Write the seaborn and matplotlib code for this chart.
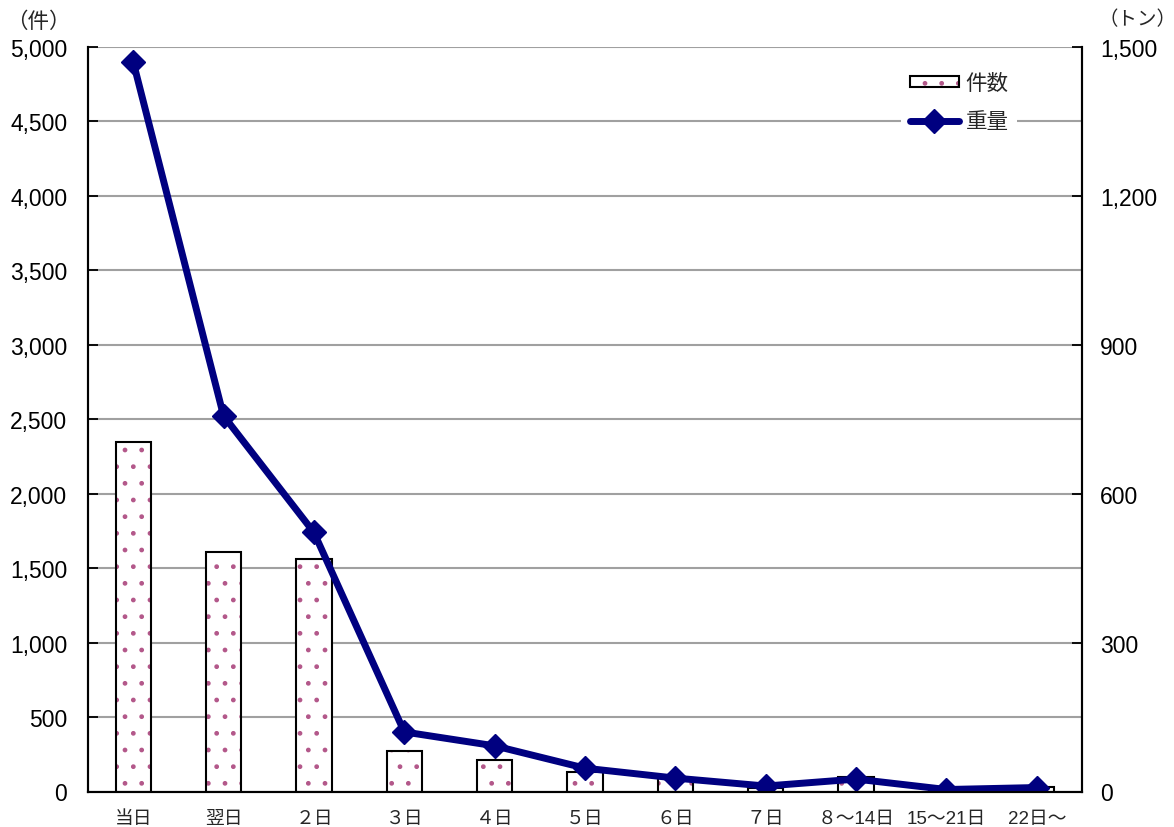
import numpy as np
import pandas as pd
import matplotlib
matplotlib.use("Agg")
import matplotlib.pyplot as plt
import seaborn as sns
from matplotlib.patches import Patch
from matplotlib.lines import Line2D
from matplotlib.legend_handler import HandlerTuple
from matplotlib.ticker import FixedLocator

categories = ["当日", "翌日", "２日", "３日", "４日", "５日", "６日", "７日",
              "８～14日", "15～21日", "22日～"]
counts = [2350, 1610, 1560, 270, 210, 130, 90, 25, 95, 12, 30]
weights = [1470, 757, 522, 120, 92, 47, 27, 11, 25, 4, 8]
left_ticks = [0, 500, 1000, 1500, 2000, 2500, 3000, 3500, 4000, 4500, 5000]
right_ticks = [0, 300, 600, 900, 1200, 1500]
legend_labels = ["件数", "重量"]
left_unit = "（件）"
right_unit = "（トン）"

sns.set_style("white")
plt.rcParams["font.family"] = ["Liberation Sans", "Noto Sans CJK JP", "DejaVu Sans"]

NAVY = "#000080"
PINK = "#b3588a"

df = pd.DataFrame({"cat": categories, "count": counts, "weight": weights,
                   "pos": np.arange(len(categories))})

fig = plt.figure(figsize=(11.74, 8.28), dpi=100)
ax = fig.add_axes([88 / 1174, 1 - 792.5 / 828, (1082 - 88) / 1174, (792.5 - 48) / 828])

# bars: hatched pink dots layer
sns.barplot(data=df, x="cat", y="count", ax=ax, width=0.39, color="white",
            errorbar=None)
n1 = len(ax.patches)
for p in ax.patches:
    p.set_facecolor("white")
    p.set_edgecolor(PINK)
    p.set_hatch(".")
    p.set_linewidth(0)
# outline layer
sns.barplot(data=df, x="cat", y="count", ax=ax, width=0.39, color="white",
            errorbar=None)
for p in ax.patches[n1:]:
    p.set_facecolor("none")
    p.set_edgecolor("black")
    p.set_linewidth(1.5)

ax.set_xlim(-0.5, len(categories) - 0.5)
ax.set_ylim(0, 5000)
ax.yaxis.set_major_locator(FixedLocator(left_ticks))
ax.set_yticklabels([f"{v:,}" for v in left_ticks], fontsize=16.5)
ax.yaxis.grid(True, color="#a0a0a0", linewidth=1.5)
ax.set_axisbelow(True)
ax.set_xlabel("")
ax.set_ylabel("")
ax.tick_params(axis="y", direction="in", length=7, width=1.3, pad=15, colors="black")
ax.tick_params(axis="x", which="major", length=0, pad=13, labelsize=13.5)
ax.set_xticks(np.arange(len(categories)) + 0.5, minor=True)
ax.tick_params(axis="x", which="minor", direction="in", length=5, width=1.3)
for s in ["left", "bottom", "right"]:
    ax.spines[s].set_color("black")
    ax.spines[s].set_linewidth(1.5)
ax.spines["top"].set_visible(False)

ax2 = ax.twinx()
sns.lineplot(data=df, x="pos", y="weight", ax=ax2, color=NAVY, linewidth=5,
             marker="D", markersize=12, markeredgecolor=NAVY, markeredgewidth=1)
ax2.set_ylim(0, 1500)
ax2.yaxis.set_major_locator(FixedLocator(right_ticks))
ax2.set_yticklabels([f"{v:,}" for v in right_ticks], fontsize=16.5)
ax2.tick_params(axis="y", direction="in", length=7, width=1.3, pad=13, colors="black")
ax2.set_xlabel("")
ax2.set_ylabel("")
ax2.spines["top"].set_visible(False)
for s in ["left", "bottom", "right"]:
    ax2.spines[s].set_color("black")
    ax2.spines[s].set_linewidth(1.5)
ax2.set_xlim(-0.5, len(categories) - 0.5)

h_bar = (Patch(facecolor="white", edgecolor=PINK, hatch=".", linewidth=0),
         Patch(facecolor="none", edgecolor="black", linewidth=1.5))
h_line = Line2D([], [], color=NAVY, linewidth=5, marker="D", markersize=12)
leg = ax2.legend([h_bar, h_line], legend_labels,
                 handler_map={tuple: HandlerTuple(ndivide=1, pad=0)},
                 loc="upper left", bbox_to_anchor=(0.807, 0.991),
                 frameon=True, fancybox=False, edgecolor="none", facecolor="white",
                 framealpha=1, fontsize=15.5, handlelength=2.3, handleheight=0.45,
                 handletextpad=0.3, labelspacing=0.8, borderpad=0.4)
leg.get_frame().set_linewidth(0)

fig.text(6 / 1174, 1 - 22 / 828, left_unit, fontsize=15.5, ha="left", va="center")
fig.text(1098 / 1174, 1 - 20 / 828, right_unit, fontsize=14, ha="left", va="center")

fig.savefig("out.png", dpi=100)
